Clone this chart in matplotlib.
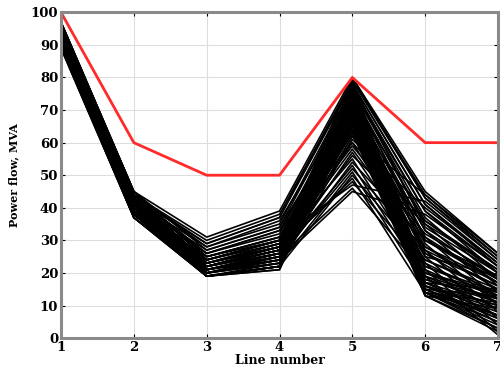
import matplotlib
matplotlib.use("Agg")
import matplotlib.pyplot as plt

# line numbers on the x axis
lines = [1, 2, 3, 4, 5, 6, 7]

# thermal limit of each line, MVA
limit = [100, 60, 50, 50, 80, 60, 60]

# power flow on each line for every simulated scenario, MVA
flow_line1 = [97, 96, 95, 94, 93, 92, 91, 90, 96, 95, 94, 93, 92, 91, 97, 95, 93, 91, 90, 94,
              96, 92, 93, 95, 91, 94, 90, 92, 96, 93, 95, 91, 94, 92, 97, 90, 93, 96, 91, 94,
              95, 93, 91, 89, 96, 94, 92, 90, 97, 95, 93, 91, 89, 96, 94, 92, 90, 95, 93, 91,
              96, 94, 92, 90, 93, 95, 91, 94, 92, 96]
flow_line2 = [45, 44, 43, 42, 41, 40, 39, 38, 44, 43, 42, 41, 40, 39, 45, 43, 41, 39, 37, 42,
              44, 40, 41, 43, 39, 42, 37, 40, 44, 41, 43, 38, 42, 40, 45, 37, 41, 44, 38, 42,
              43, 41, 39, 37, 44, 42, 40, 38, 45, 43, 41, 39, 37, 44, 42, 40, 38, 43, 41, 39,
              44, 42, 40, 38, 41, 43, 39, 42, 40, 44]
flow_line3 = [31, 30, 29, 28, 27, 26, 25, 24, 23, 22, 21, 20, 19, 25, 24, 23, 22, 21, 20, 19,
              26, 24, 22, 20, 23, 21, 19, 22, 25, 20, 23, 21, 24, 22, 27, 19, 21, 23, 20, 22,
              21, 20, 19, 19, 22, 21, 20, 19, 24, 23, 22, 21, 20, 25, 23, 21, 19, 22, 20, 19,
              28, 26, 24, 22, 20, 21, 19, 23, 21, 29]
flow_line4 = [39, 38, 37, 35, 34, 32, 31, 30, 29, 28, 26, 25, 22, 31, 30, 29, 27, 26, 24, 22,
              33, 30, 28, 25, 29, 26, 23, 27, 31, 24, 28, 26, 30, 27, 34, 21, 26, 28, 24, 27,
              24, 23, 22, 21, 26, 25, 23, 22, 29, 28, 27, 25, 23, 30, 28, 25, 22, 26, 24, 22,
              36, 33, 30, 27, 24, 25, 22, 28, 25, 37]
flow_line5 = [80, 79, 78, 77, 76, 75, 74, 73, 72, 71, 70, 69, 68, 67, 66, 65, 64, 63, 62, 61,
              60, 59, 58, 57, 55, 53, 51, 49, 47, 45, 78, 76, 74, 72, 70, 68, 66, 64, 62, 60,
              79, 77, 75, 73, 71, 69, 67, 65, 63, 80, 78, 76, 74, 72, 70, 68, 66, 64, 77, 75,
              73, 71, 69, 56, 54, 52, 50, 48, 46, 79]
flow_line6 = [45, 43, 41, 39, 37, 35, 33, 31, 29, 27, 25, 23, 21, 19, 17, 15, 14, 13, 44, 40,
              36, 32, 28, 24, 20, 18, 16, 14, 42, 38, 34, 30, 26, 22, 19, 16, 15, 13, 30, 25,
              16, 15, 14, 13, 18, 17, 15, 14, 20, 43, 41, 39, 36, 33, 31, 28, 26, 23, 21, 19,
              17, 16, 14, 35, 30, 27, 24, 22, 20, 44]
flow_line7 = [26, 24, 22, 20, 18, 16, 14, 12, 10, 8, 6, 4, 2, 1, 15, 13, 11, 9, 25, 23,
              21, 19, 17, 15, 13, 11, 9, 7, 24, 22, 20, 18, 16, 14, 12, 10, 5, 3, 17, 19,
              8, 6, 4, 2, 12, 10, 7, 5, 14, 25, 23, 22, 20, 18, 17, 15, 13, 12, 11, 9,
              7, 6, 3, 21, 19, 16, 14, 13, 11, 26]

plt.rcParams['font.family'] = 'DejaVu Serif'
plt.rcParams['font.weight'] = 'bold'

fig = plt.figure(figsize=(5, 3.74), dpi=100)
ax = fig.add_axes([0.122, 0.096, 0.874, 0.871])

columns = [flow_line1, flow_line2, flow_line3, flow_line4, flow_line5, flow_line6, flow_line7]
for k in range(len(flow_line1)):
    scenario = [col[k] for col in columns]
    ax.plot(lines, scenario, color='black', linewidth=1.2)

ax.plot(lines, limit, color='#ff2a2a', linewidth=2.0)

ax.set_xlim(1, 7)
ax.set_ylim(0, 100)
ax.set_xticks(lines)
ax.set_yticks(range(0, 101, 10))
ax.grid(True, color='#dddddd', linewidth=0.8)
ax.tick_params(direction='in', top=True, right=True, length=3, labelsize=9.5, pad=2)
for s in ax.spines.values():
    s.set_color('#8a8a8a')
    s.set_linewidth(2.2)

ax.set_xlabel('Line number', fontsize=9, fontweight='bold', labelpad=0)
ax.set_ylabel('Power flow, MVA', fontsize=8, fontweight='bold', labelpad=8)

fig.savefig('out.png', dpi=100)
